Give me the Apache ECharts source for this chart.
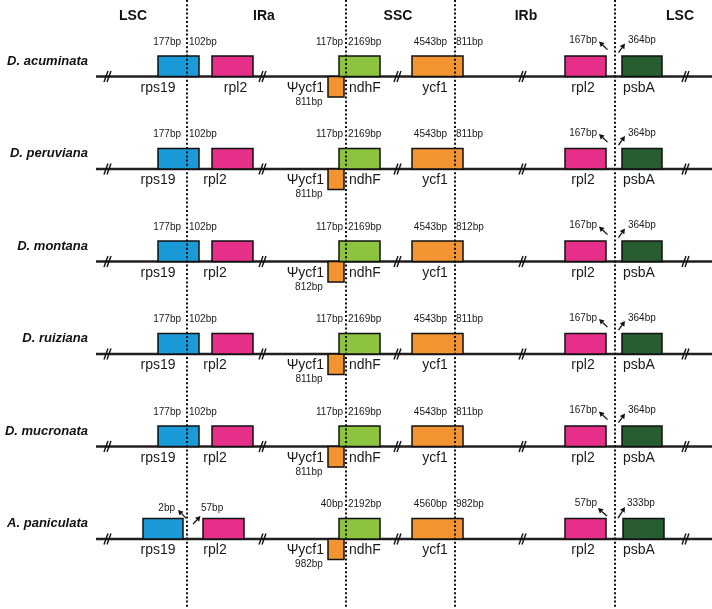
<!DOCTYPE html>
<html>
<head>
<meta charset="utf-8">
<script src="https://cdn.jsdelivr.net/npm/echarts@6/dist/echarts.min.js"></script>
<style>html,body{margin:0;padding:0;background:#fff}#c{width:712px;height:609px}</style>
</head>
<body>
<div id="c"></div>
<script>
// ---- data ----
const species = ['D. acuminata', 'D. peruviana', 'D. montana', 'D. ruiziana', 'D. mucronata', 'A. paniculata'];
const regions = ['LSC', 'IRa', 'SSC', 'IRb', 'LSC'];
const rps19InLSC = [177, 177, 177, 177, 177, 2];      // A. paniculata: gap before junction
const rps19InIRa = [102, 102, 102, 102, 102, null];
const rpl2GapIRa = [null, null, null, null, null, 57];
const psiYcf1 = [811, 811, 812, 811, 811, 982];
const ndhFInIRa = [117, 117, 117, 117, 117, 40];
const ndhFInSSC = [2169, 2169, 2169, 2169, 2169, 2192];
const ycf1InSSC = [4543, 4543, 4543, 4543, 4543, 4560];
const ycf1InIRb = [811, 811, 812, 811, 811, 982];
const rpl2GapIRb = [167, 167, 167, 167, 167, 57];
const psbAGapLSC = [364, 364, 364, 364, 364, 333];
const geneNames = ['rps19', 'rpl2', 'Ψycf1', 'ndhF', 'ycf1', 'rpl2', 'psbA'];

// ---- layout (drawing coordinates of the schematic axis) ----
const FONT = "'Liberation Sans', Arial, sans-serif";
const ROW0 = 76.6, ROW_STEP = 92.5;
const JUNCTIONS = [187, 346, 455, 615];
const HEADER_X = [133, 264, 398, 526, 680];
const BREAKS = [108, 263, 398, 523, 686];
const RPL2_LABEL_X = [235.5, 215, 215, 215, 215, 215];
const COL = { rps19: '#1a9bd7', rpl2: '#e62f89', ndhF: '#8dc43f', ycf1: '#f29431', psbA: '#285d32' };
const BOX_H = 20.5;

function bp(v) { return v + 'bp'; }

function renderRow(params, api) {
  const i = api.value(0);
  const b = ROW0 + ROW_STEP * i;
  const P = (x, y) => api.coord([x, y]);
  const ch = [];
  const text = (s, x, y, size, align, opts) => {
    const p = P(x, y);
    ch.push({ type: 'text', x: p[0], y: p[1], z2: 5,
      style: Object.assign({ text: s, fill: '#1a1a1a', font: size + 'px ' + FONT, align: align, verticalAlign: 'middle' }, opts || {}) });
  };
  const line = (x1, y1, x2, y2, w, color) => {
    const a = P(x1, y1), c = P(x2, y2);
    ch.push({ type: 'line', shape: { x1: a[0], y1: a[1], x2: c[0], y2: c[1] }, style: { stroke: color || '#1a1a1a', lineWidth: w } });
  };
  const box = (x1, x2, top, color) => {
    const a = P(x1, top), c = P(x2, top + BOX_H);
    ch.push({ type: 'rect', z2: 3, shape: { x: a[0], y: a[1], width: c[0] - a[0], height: c[1] - a[1] },
      style: { fill: color, stroke: '#111', lineWidth: 1.5 } });
  };
  const arrow = (tx, ty, hx, hy) => {
    const t = P(tx, ty), h = P(hx, hy);
    const dx = h[0] - t[0], dy = h[1] - t[1], L = Math.hypot(dx, dy);
    const ux = dx / L, uy = dy / L, nx = -uy, ny = ux;
    const back = 5, half = 2.8;
    const bx = h[0] - ux * back, by = h[1] - uy * back;
    ch.push({ type: 'line', z2: 4, shape: { x1: t[0], y1: t[1], x2: bx, y2: by }, style: { stroke: '#111', lineWidth: 1.3 } });
    ch.push({ type: 'polygon', z2: 4, shape: { points: [[h[0], h[1]], [bx + nx * half, by + ny * half], [bx - nx * half, by - ny * half]] }, style: { fill: '#111' } });
  };

  // species label
  text(species[i], 88, b - 15.5, 13, 'right', { font: 'italic bold 13px ' + FONT, fill: '#111' });
  // backbone
  line(96, b, 712, b, 2.5, '#231f20');
  // break marks
  BREAKS.forEach(x => {
    line(x - 4, b + 5.5, x, b - 5.5, 1.4, '#111');
    line(x - 1, b + 5.5, x + 3, b - 5.5, 1.4, '#111');
  });

  const crossing = rps19InIRa[i] != null;
  const top = b - BOX_H;
  // LSC / IRa junction
  if (crossing) {
    box(158, 199, top, COL.rps19);
    box(212, 253, top, COL.rpl2);
    text(bp(rps19InLSC[i]), 181, b - 34.5, 10, 'right');
    text(bp(rps19InIRa[i]), 189, b - 34.5, 10, 'left');
  } else {
    box(143, 183, top, COL.rps19);
    box(203, 244, top, COL.rpl2);
    text(bp(rps19InLSC[i]), 175, b - 30.5, 10, 'right');
    arrow(186, b - 21, 178, b - 29);
    text(bp(rpl2GapIRa[i]), 201, b - 30.5, 10, 'left');
    arrow(193, b - 15, 200.5, b - 23);
  }
  text(geneNames[0], 158, b + 11.5, 14, 'center');
  text(geneNames[1], RPL2_LABEL_X[i], b + 11.5, 14, 'center');

  // IRa / SSC junction
  box(328, 344, b, COL.ycf1);
  box(339, 380, top, COL.ndhF);
  text(geneNames[2], 324, b + 11.5, 14, 'right');
  text(bp(psiYcf1[i]), 309, b + 25.5, 10, 'center');
  text(geneNames[3], 349, b + 11.5, 14, 'left');
  text(bp(ndhFInIRa[i]), 343, b - 34.5, 10, 'right');
  text(bp(ndhFInSSC[i]), 348, b - 34.5, 10, 'left');

  // SSC / IRb junction
  box(412, 463, top, COL.ycf1);
  text(geneNames[4], 435, b + 11.5, 14, 'center');
  text(bp(ycf1InSSC[i]), 430.5, b - 34.5, 10, 'center');
  text(bp(ycf1InIRb[i]), 456, b - 34.5, 10, 'left');

  // IRb / LSC junction
  box(565, 606, top, COL.rpl2);
  if (crossing) {
    box(622, 662, top, COL.psbA);
    text(bp(rpl2GapIRb[i]), 597, b - 36, 10, 'right');
    arrow(607.5, b - 27, 599, b - 35);
    text(bp(psbAGapLSC[i]), 628, b - 36, 10, 'left');
    arrow(618.5, b - 24, 625, b - 33);
  } else {
    box(623, 664, top, COL.psbA);
    text(bp(rpl2GapIRb[i]), 597, b - 36, 10, 'right');
    arrow(607, b - 23, 598, b - 31);
    text(bp(psbAGapLSC[i]), 627, b - 36, 10, 'left');
    arrow(618, b - 21, 625, b - 32);
  }
  text(geneNames[5], 583, b + 11.5, 14, 'center');
  text(geneNames[6], 639, b + 11.5, 14, 'center');

  return { type: 'group', children: ch };
}

function renderFrame(params, api) {
  const P = (x, y) => api.coord([x, y]);
  const ch = [];
  JUNCTIONS.forEach(x => {
    const a = P(x, 0), c = P(x, 609);
    ch.push({ type: 'line', z2: 10, shape: { x1: a[0], y1: a[1], x2: c[0], y2: c[1] },
      style: { stroke: '#111', lineWidth: 2, lineDash: [2, 2.2] } });
  });
  regions.forEach((r, k) => {
    const p = P(HEADER_X[k], 16.5);
    ch.push({ type: 'text', x: p[0], y: p[1], style: { text: r, fill: '#111', font: 'bold 14px ' + FONT, align: 'center', verticalAlign: 'middle' } });
  });
  return { type: 'group', children: ch };
}

const chart = echarts.init(document.getElementById('c'), null, { renderer: 'canvas' });
chart.setOption({
  animation: false,
  backgroundColor: '#ffffff',
  grid: { left: 0, right: 0, top: 0, bottom: 0 },
  xAxis: { type: 'value', min: 0, max: 712, show: false },
  yAxis: { type: 'value', min: 0, max: 609, inverse: true, show: false },
  series: [
    { type: 'custom', coordinateSystem: 'cartesian2d', z: 2, clip: false,
      data: species.map((s, i) => [i, 0]), renderItem: renderRow },
    { type: 'custom', coordinateSystem: 'cartesian2d', z: 5, clip: false,
      data: [[0, 0]], renderItem: renderFrame }
  ]
});
</script>
</body>
</html>
